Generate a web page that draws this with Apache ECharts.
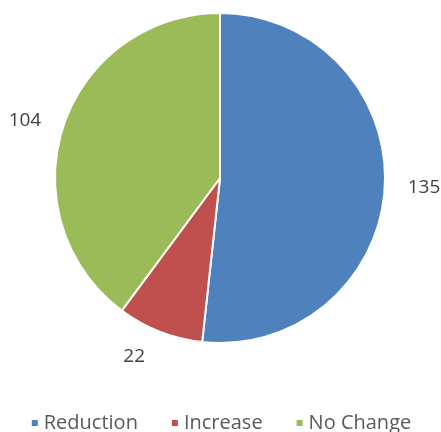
<!DOCTYPE html>
<html><head><meta charset="utf-8">
<script src="https://cdn.jsdelivr.net/npm/echarts@6/dist/echarts.min.js"></script>
<style>html,body{margin:0;padding:0;background:#fff}#c{width:441px;height:432px}</style>
</head><body><div id="c"></div>
<script>
const categories = ["Reduction", "Increase", "No Change"];
const values = [135, 22, 104];
const colors = ["#4F81BD", "#C0504D", "#9BBB59"];
const chart = echarts.init(document.getElementById('c'));
chart.setOption({
  animation: false,
  color: colors,
  legend: {
    bottom: -6, left: 'center', itemWidth: 8, itemHeight: 8, itemGap: 32,
    icon: 'rect',
    textStyle: {fontFamily: 'Open Sans', fontSize: 20, color: '#595959'},
    data: categories
  },
  series: [{
    type: 'pie',
    center: [220, 178],
    radius: [0, 165],
    startAngle: 90,
    clockwise: true,
    itemStyle: {borderColor: '#fff', borderWidth: 2},
    label: {show: true, position: 'outside', formatter: '{c}', overflow: 'none', fontFamily: 'Open Sans', fontSize: 19, color: '#404040'},
    labelLine: {show: false, length: 18, length2: 0},
    data: categories.map((n, i) => ({
      name: n, value: values[i],
      labelLine: {length: i === 1 ? 27 : 18, length2: 0}
    }))
  }]
});
</script></body></html>
